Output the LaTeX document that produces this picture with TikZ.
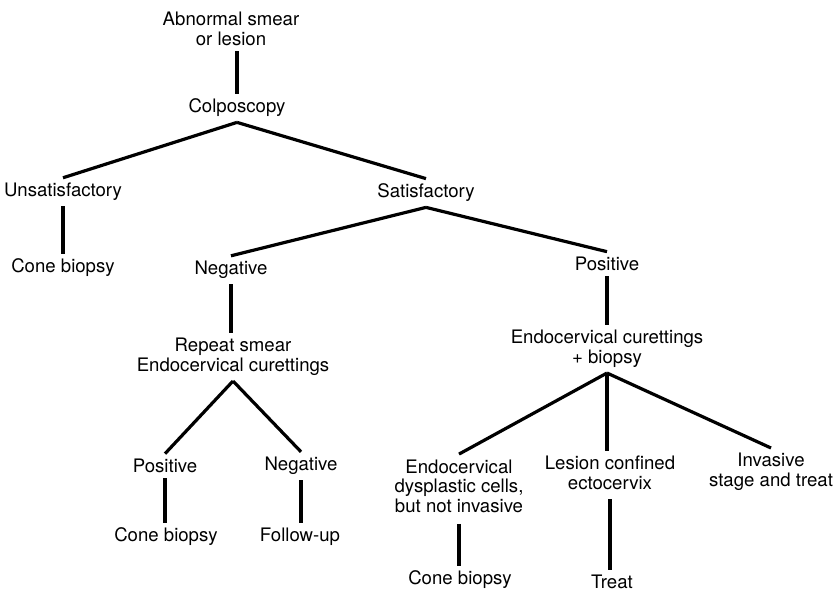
\documentclass[tikz,border=0pt]{standalone}
\usepackage{fontspec}
\setmainfont{TeX Gyre Heros}

\begin{document}
\begin{tikzpicture}[x=0.5pt,y=-0.5pt,
  txt/.style={align=center,inner sep=2.5pt,font=\fontsize{9.3}{9.8}\selectfont},
  link/.style={line width=1.6pt}]
\useasboundingbox (0,0) rectangle (839,595);
%================================================================
%	Top of the tree
\node[txt] (abn)   at (231,29)  {Abnormal smear\\or lesion};
\node[txt] (colpo) at (237,108) {Colposcopy};
\node[txt] (unsat) at (63,192)  {Unsatisfactory};
\node[txt] (cone1) at (63,268)  {Cone biopsy};
\node[txt] (satis) at (426,193) {Satisfactory};
%----------------------------------------------------------------
\draw[link] (abn.south -| colpo.north) -- (colpo.north);
\draw[link] (colpo.south) -- (unsat.north);
\draw[link] (colpo.south) -- (satis.north);
\draw[link] (unsat.south) -- (unsat.south |- cone1.north);
%================================================================
%	Negative branch
\node[txt] (neg1)   at (231,270) {Negative};
\node[txt] (repeat) at (233,357) {Repeat smear\\Endocervical curettings};
\node[txt] (pos2)   at (165,466) {Positive};
\node[txt] (neg2)   at (301,466) {Negative};
\node[txt] (cone2)  at (166,537) {Cone biopsy};
\node[txt] (follow) at (300,537) {Follow-up};
%----------------------------------------------------------------
\draw[link] (satis.south) -- (neg1.north);
\draw[link] (neg1.south) -- (neg1.south |- repeat.north);
\draw[link] (repeat.south) -- (pos2.north);
\draw[link] (repeat.south) -- (neg2.north);
\draw[link] (pos2.south) -- (pos2.south |- cone2.north);
\draw[link] (neg2.south) -- (neg2.south |- follow.north);
%================================================================
%	Positive branch
\node[txt] (pos1)   at (607,264) {Positive};
\node[txt] (endo)   at (607,349) {Endocervical curettings\\+ biopsy};
\node[txt] (dysp)   at (459,486) {Endocervical\\dysplastic cells,\\but not invasive};
\node[txt] (lesion) at (610,473) {Lesion confined\\ectocervix};
\node[txt] (inv)    at (771,472) {Invasive\\stage and treat};
\node[txt] (cone3)  at (460,580) {Cone biopsy};
\node[txt] (treat)  at (612,582) {Treat};
%----------------------------------------------------------------
\draw[link] (satis.south) -- (pos1.north);
\draw[link] (pos1.south) -- (pos1.south |- endo.north);
\draw[link] (endo.south) -- (dysp.north);
\draw[link] (endo.south) -- (endo.south |- lesion.north);
\draw[link] (endo.south) -- (inv.north);
\draw[link, shorten <=3pt] (dysp.south) -- (dysp.south |- cone3.north);
\draw[link, shorten <=2pt] (lesion.south) -- (lesion.south |- treat.north);
%================================================================
\end{tikzpicture}
\end{document}
